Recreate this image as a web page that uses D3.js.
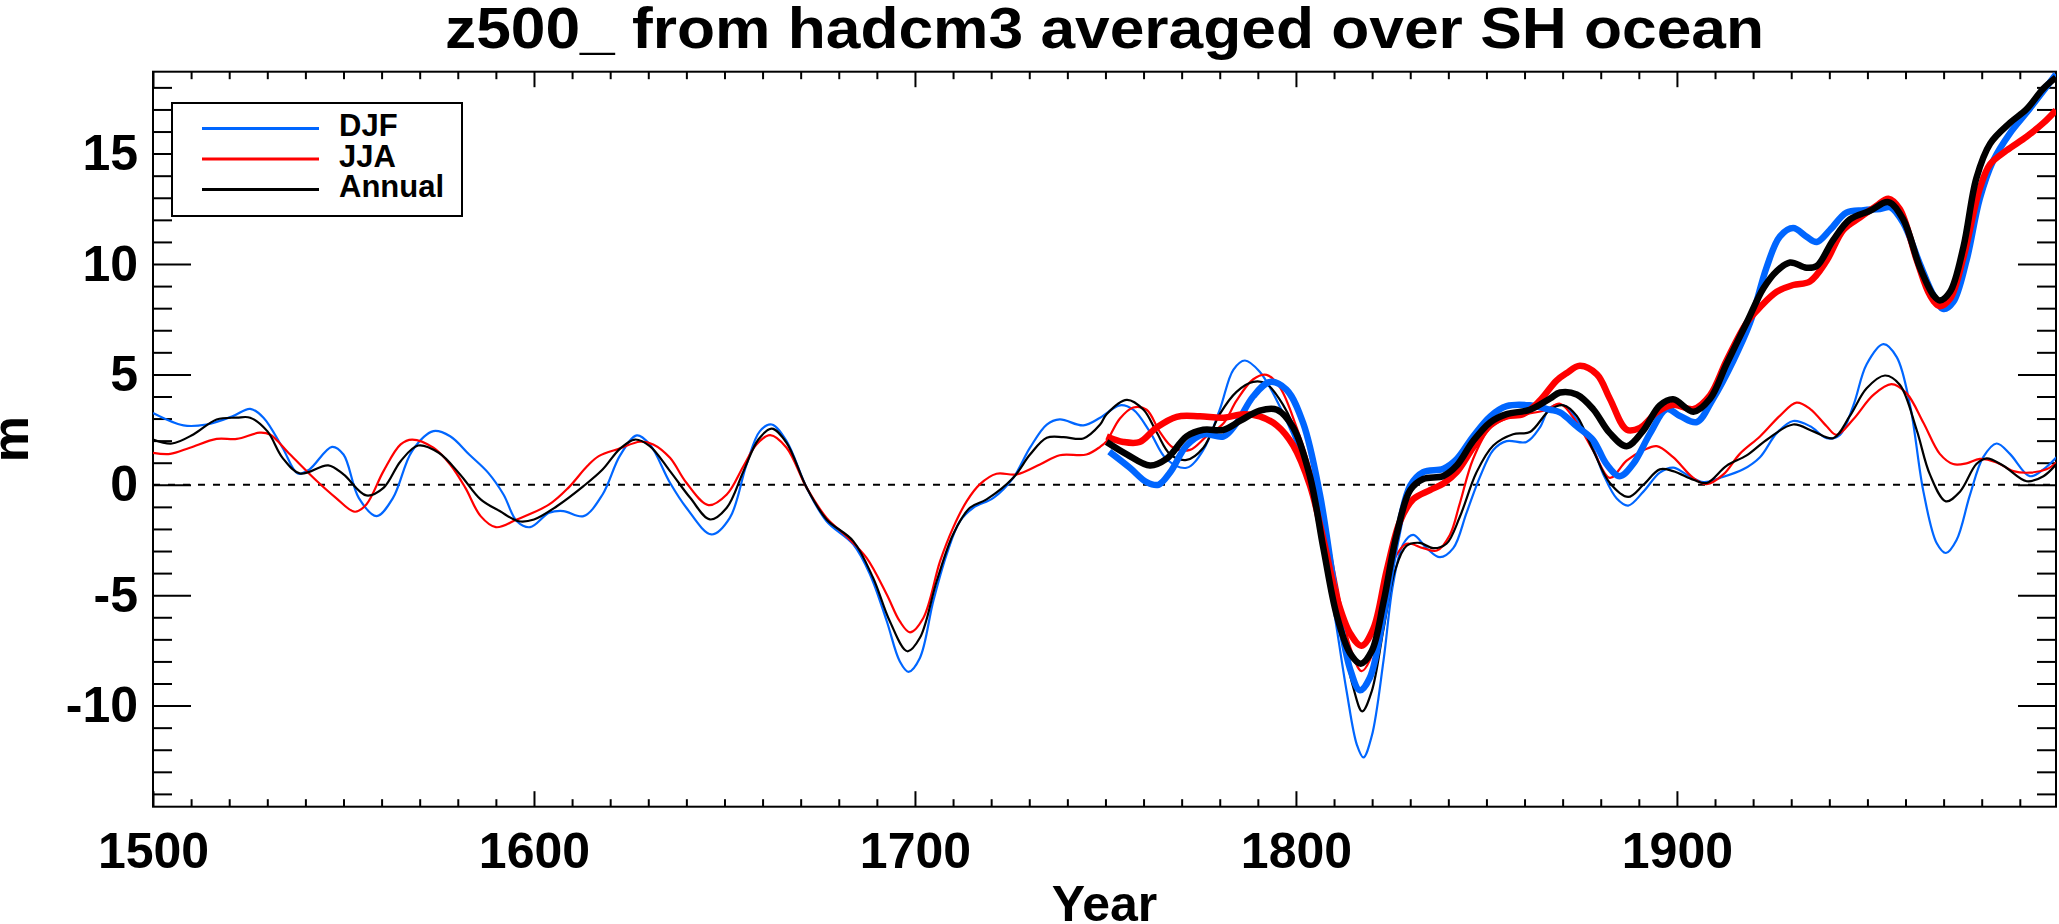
<!DOCTYPE html>
<html>
<head>
<meta charset="utf-8">
<script src="https://cdn.jsdelivr.net/npm/d3@7"></script>
<style>
  body { margin: 0; background: #fff; }
  text { font-family: "Liberation Sans", Arial, Helvetica, sans-serif; font-weight: bold; }
</style>
</head>
<body>
<div id="chart"></div>
<script>
const width = 2059;
const height = 924;
const plot = { left: 153, right: 2056, top: 71.7, bottom: 806.7 };

const titleText = "z500_ from hadcm3 averaged over SH ocean";
const xTickLabels = [1500, 1600, 1700, 1800, 1900];
const yTickLabels = [-10, -5, 0, 5, 10, 15];
const seriesNames = ["DJF", "JJA", "Annual"];
const seriesColors = ["#0066ff", "#ff0000", "#000000"];

// thin curves: 1500-2000
const djfThinYears = [1500, 1508, 1514, 1521, 1525.5, 1529, 1534, 1538, 1541, 1547, 1550, 1554, 1558.7, 1563, 1568, 1573.6, 1578, 1583, 1588, 1592, 1595.5, 1599, 1604, 1607.7, 1613, 1618, 1622.6, 1627, 1630.4, 1635.7, 1640, 1646.6, 1651.4, 1655.8, 1659.3, 1662.4, 1666.3, 1671.6, 1676.8, 1683.8, 1688.2, 1692.6, 1696, 1698.3, 1701.3, 1704.8, 1708.3, 1711.8, 1715.3, 1720.6, 1725.8, 1730.2, 1734.6, 1738, 1744.2, 1748.6, 1753.8, 1757.3, 1761.7, 1766, 1771.3, 1775.7, 1780, 1783.6, 1786.6, 1790.5, 1795, 1799.3, 1802.8, 1806.3, 1809.8, 1813.3, 1816, 1817.7, 1819.9, 1823, 1825.5, 1828.2, 1830.8, 1834.3, 1837.8, 1841.3, 1844.8, 1848.3, 1851.8, 1855.3, 1860.5, 1864, 1866.7, 1870.2, 1873.7, 1877.2, 1880.7, 1884.2, 1887.2, 1891.2, 1895.5, 1899, 1902.5, 1907, 1911.3, 1917.4, 1921.8, 1926.2, 1930.5, 1935, 1939.3, 1942.8, 1946.3, 1949.8, 1954.2, 1957.7, 1961.2, 1964.7, 1968.2, 1970.6, 1973.4, 1976.9, 1980.4, 1983.9, 1987.4, 1992.6, 1996.2, 1999.6];
const djfThinValues = [3.25, 2.69, 2.73, 3.11, 3.44, 3.04, 1.68, 0.51, 0.69, 1.72, 1.37, -0.59, -1.42, -0.59, 1.53, 2.43, 2.2, 1.37, 0.54, -0.44, -1.65, -1.92, -1.27, -1.19, -1.42, -0.44, 1.33, 2.24, 1.83, 0.09, -1.04, -2.25, -1.5, 0.92, 2.43, 2.73, 1.98, -0.14, -1.65, -2.7, -4.06, -6.18, -7.99, -8.47, -7.84, -5.27, -3.16, -1.65, -1.04, -0.59, 0.32, 1.68, 2.73, 2.96, 2.69, 3.04, 3.6, 3.4, 2.39, 1.17, 0.77, 1.58, 3.4, 5.22, 5.63, 5.12, 3.81, 2.19, 0.57, -2.06, -5.51, -9.35, -11.78, -12.35, -11.38, -7.94, -4.49, -2.67, -2.27, -2.87, -3.28, -2.87, -1.26, 0.36, 1.58, 1.98, 1.94, 2.59, 3.5, 3.6, 2.97, 2.03, 0.47, -0.62, -0.94, -0.31, 0.55, 0.78, 0.47, 0.12, 0.31, 0.7, 1.25, 2.34, 2.89, 2.65, 2.11, 2.26, 3.59, 5.46, 6.37, 5.78, 3.59, -0.31, -2.65, -3.09, -2.5, -0.47, 1.25, 1.87, 1.4, 0.39, 0.7, 1.25];

const jjaThinYears = [1500, 1504.5, 1509.7, 1516.7, 1522, 1528, 1530.7, 1536, 1543, 1548, 1553, 1556, 1560.5, 1565, 1568, 1573.6, 1578, 1582, 1586, 1590, 1595.5, 1604, 1609, 1614, 1617, 1622.6, 1627.8, 1631.3, 1635.7, 1640, 1645.8, 1650.6, 1655, 1658.4, 1662, 1666.3, 1671.6, 1676.8, 1682, 1687.3, 1692.6, 1696, 1698.7, 1702.2, 1706.6, 1710, 1713.6, 1717, 1721.4, 1726.7, 1732.8, 1738, 1745, 1748.6, 1750.3, 1753.8, 1757.3, 1760.8, 1764.3, 1767.8, 1772.2, 1776.5, 1781, 1784.4, 1788.8, 1792.3, 1795.8, 1800.2, 1803.7, 1807.2, 1810.7, 1814.2, 1817.2, 1819.4, 1822, 1825.5, 1829, 1833.4, 1837, 1840.4, 1843, 1846.5, 1851, 1855.3, 1860.5, 1865.8, 1869.3, 1873.7, 1878, 1882.4, 1886.8, 1891.2, 1894.7, 1899, 1904.3, 1907.8, 1912.2, 1916.5, 1921.8, 1927, 1931.4, 1935, 1939.3, 1941.9, 1946.3, 1951.5, 1956.3, 1960.3, 1964.7, 1969, 1972.5, 1976, 1979.5, 1983.9, 1988.3, 1992.6, 1997, 1999.6];
const jjaThinValues = [1.45, 1.4, 1.68, 2.08, 2.08, 2.36, 2.28, 1.37, 0.17, -0.59, -1.22, -0.89, 0.62, 1.83, 2.05, 1.68, 0.92, -0.14, -1.42, -1.92, -1.57, -0.89, -0.14, 0.85, 1.3, 1.65, 1.95, 1.83, 1.22, 0.09, -0.92, -0.44, 0.85, 1.83, 2.25, 1.68, -0.14, -1.5, -2.33, -3.31, -4.97, -6.18, -6.68, -6.03, -3.46, -1.95, -0.74, 0.02, 0.5, 0.47, 0.92, 1.34, 1.37, 1.72, 1.98, 3.0, 3.5, 3.4, 2.39, 1.68, 1.58, 2.19, 2.79, 3.81, 4.78, 4.98, 4.41, 2.59, 0.77, -1.46, -4.49, -7.33, -8.44, -7.94, -5.91, -3.48, -2.67, -2.87, -2.98, -2.27, -0.85, 1.17, 2.59, 3.0, 3.2, 3.4, 3.67, 2.81, 1.56, 0.31, 1.09, 1.56, 1.75, 1.25, 0.31, 0.03, 0.47, 1.4, 2.19, 3.12, 3.72, 3.43, 2.65, 2.26, 2.97, 4.06, 4.56, 4.14, 2.81, 1.4, 0.94, 0.97, 1.17, 1.01, 0.62, 0.55, 0.7, 1.01];

const annThinYears = [1500, 1505, 1510.6, 1516.7, 1522, 1525.5, 1530, 1534, 1538.6, 1546, 1550, 1556, 1560.5, 1565, 1569.6, 1575, 1580.6, 1586, 1591, 1596, 1600, 1606, 1613, 1618, 1622.6, 1626.5, 1630.4, 1635.7, 1641, 1646.2, 1650.6, 1655, 1658.9, 1662.4, 1666.3, 1671.6, 1676.8, 1683.8, 1689, 1693.4, 1698, 1701.3, 1705.7, 1710, 1714.4, 1718.8, 1725.8, 1730.2, 1734.6, 1739, 1744.2, 1748.6, 1750.3, 1755.6, 1760, 1763.4, 1767, 1771.3, 1775.7, 1780, 1784.4, 1788.8, 1792.3, 1796.7, 1801, 1804.5, 1808, 1811.5, 1815, 1817.4, 1819.9, 1823, 1826, 1829, 1832.5, 1836, 1839.5, 1843, 1847.4, 1851.8, 1857, 1861.4, 1866.7, 1870.2, 1873.7, 1878, 1882.4, 1887.2, 1891.2, 1895.5, 1899, 1904.3, 1907.8, 1913, 1918.3, 1923.5, 1930.5, 1935.8, 1941, 1945.4, 1949.8, 1954.6, 1958.5, 1962.9, 1966.4, 1970.6, 1974.3, 1978.6, 1981.3, 1985.7, 1991.8, 1996.2, 1999.6];
const annThinValues = [2.05, 1.87, 2.28, 2.96, 3.04, 3.04, 2.43, 1.22, 0.51, 0.88, 0.47, -0.48, -0.14, 1.07, 1.78, 1.45, 0.47, -0.66, -1.19, -1.65, -1.57, -0.97, -0.06, 0.69, 1.64, 2.05, 1.75, 0.62, -0.59, -1.57, -1.04, 0.62, 2.05, 2.54, 1.9, -0.14, -1.57, -2.55, -4.21, -6.18, -7.54, -6.93, -4.37, -2.25, -1.04, -0.66, 0.32, 1.37, 2.13, 2.16, 2.1, 2.73, 3.2, 3.85, 3.4, 2.39, 1.38, 1.13, 1.68, 3.2, 4.21, 4.66, 4.57, 3.6, 1.98, -0.04, -2.87, -6.32, -9.15, -10.26, -9.35, -6.52, -3.89, -2.77, -2.63, -2.87, -2.67, -1.46, 0.57, 1.78, 2.29, 2.39, 3.4, 3.6, 3.12, 1.56, 0.08, -0.55, 0.0, 0.7, 0.62, 0.23, 0.08, 0.86, 1.33, 2.03, 2.73, 2.42, 2.11, 3.12, 4.37, 4.95, 4.53, 2.5, 0.47, -0.75, -0.31, 0.94, 1.2, 0.86, 0.16, 0.39, 0.94];

// thick curves: 1750-2000
const djfThickYears = [1751, 1756.4, 1760.8, 1763.9, 1767, 1771.3, 1775.7, 1781, 1784.4, 1788.8, 1793.2, 1797.5, 1801.9, 1806.3, 1810.7, 1814.2, 1816.8, 1819.4, 1823, 1826.4, 1830, 1833.4, 1838.7, 1842.2, 1846.5, 1851, 1855.3, 1861.4, 1866.7, 1869.3, 1873.7, 1878, 1881.5, 1885, 1888.5, 1893, 1897.3, 1900.8, 1905.2, 1909.5, 1914.8, 1919.2, 1923.5, 1927, 1930.5, 1934, 1936.7, 1940.2, 1944.5, 1949, 1953.3, 1956, 1959.4, 1963.8, 1967.3, 1970, 1972.5, 1976, 1979.5, 1983, 1987.4, 1991.8, 1995.3, 1999.5];
const djfThickValues = [1.5, 0.77, 0.12, 0.0, 0.57, 1.78, 2.29, 2.19, 2.79, 4.01, 4.66, 4.31, 2.79, -0.45, -5.3, -8.34, -9.31, -8.74, -5.91, -2.47, -0.04, 0.57, 0.73, 1.17, 2.19, 3.1, 3.56, 3.6, 3.4, 3.28, 2.65, 2.03, 0.94, 0.39, 0.94, 2.34, 3.43, 3.12, 2.84, 3.9, 5.62, 7.34, 9.83, 11.24, 11.63, 11.24, 11.0, 11.55, 12.33, 12.44, 12.49, 12.57, 11.86, 9.99, 8.59, 7.96, 8.27, 10.15, 12.96, 14.67, 15.92, 16.86, 17.64, 18.6];

const jjaThickYears = [1750.3, 1754.7, 1759, 1763.4, 1768.7, 1774.8, 1781, 1786.2, 1790.5, 1795, 1799.3, 1803.7, 1807.2, 1810.7, 1814.2, 1817.2, 1820.3, 1823.8, 1827.3, 1830.8, 1835.2, 1838.7, 1842.2, 1846.5, 1851, 1855.3, 1859.7, 1864, 1868.4, 1871, 1874.5, 1879, 1882.4, 1886.8, 1890.3, 1894.7, 1899, 1904.3, 1908.7, 1913, 1918.3, 1921.8, 1926.2, 1930.5, 1934.9, 1939.3, 1943.7, 1948, 1952.4, 1955.5, 1958.5, 1963, 1966.4, 1969, 1971.7, 1975.2, 1979.5, 1982.2, 1986.5, 1991.8, 1996.2, 1999.5];
const jjaThickValues = [2.19, 1.94, 1.94, 2.59, 3.08, 3.1, 3.04, 3.2, 3.1, 2.69, 1.78, -0.04, -2.47, -5.1, -6.72, -7.29, -6.52, -3.89, -1.66, -0.65, -0.24, 0.06, 0.57, 1.68, 2.69, 3.1, 3.2, 3.81, 4.72, 5.05, 5.39, 5.0, 3.9, 2.5, 2.58, 3.28, 3.62, 3.43, 4.06, 5.62, 7.34, 8.04, 8.74, 9.05, 9.21, 10.15, 11.55, 12.1, 12.64, 12.96, 12.49, 10.15, 8.59, 8.09, 8.43, 10.3, 13.42, 14.52, 15.14, 15.77, 16.39, 16.97];

const annThickYears = [1750.3, 1755.6, 1761.7, 1766, 1771.3, 1775.7, 1781, 1785.3, 1790.5, 1795, 1799.3, 1803.7, 1807.2, 1810.7, 1814.2, 1817, 1819.9, 1823, 1826.4, 1830, 1833.4, 1838.7, 1842.2, 1846.5, 1851, 1855.3, 1861.4, 1866.7, 1869.3, 1873.7, 1878, 1882.4, 1886.8, 1891, 1895.5, 1899, 1904.3, 1908.7, 1913, 1918.3, 1922.7, 1926.2, 1929.7, 1934, 1936.7, 1941, 1945.4, 1950.7, 1955.5, 1959.4, 1963.8, 1967.3, 1969, 1971.7, 1975.2, 1978.6, 1982.2, 1987.4, 1991.8, 1996.2, 1999.5];
const annThickValues = [1.94, 1.38, 0.87, 1.17, 2.19, 2.49, 2.49, 2.89, 3.36, 3.4, 2.59, 0.36, -2.87, -5.91, -7.63, -8.1, -7.53, -5.3, -2.27, -0.24, 0.26, 0.4, 0.87, 1.98, 2.83, 3.2, 3.4, 3.91, 4.18, 4.09, 3.43, 2.34, 1.75, 2.42, 3.59, 3.87, 3.31, 3.9, 5.46, 7.34, 8.9, 9.68, 10.07, 9.83, 9.91, 11.08, 12.02, 12.41, 12.8, 12.02, 9.83, 8.59, 8.35, 8.74, 10.77, 13.89, 15.45, 16.39, 17.02, 17.95, 18.45];

let svg, x, y;

configureChart();
drawAxes();
drawLines();
drawLegend();

function configureChart() {
    svg = d3.select("#chart").append("svg")
        .attr("width", width)
        .attr("height", height)
        .attr("viewBox", [0, 0, width, height]);

    x = d3.scaleLinear().domain([1500, 1999.5]).range([plot.left, plot.right]);
    y = d3.scaleLinear().domain([-14.58, 18.71]).range([plot.bottom, plot.top]);

    svg.append("defs").append("clipPath").attr("id", "clip")
        .append("rect")
        .attr("x", plot.left).attr("y", plot.top)
        .attr("width", plot.right - plot.left)
        .attr("height", plot.bottom - plot.top);
}

function drawAxes() {
    const plotH = plot.bottom - plot.top;
    const xMinor = d3.range(1510, 2000, 10).filter(d => d % 100 !== 0);
    const yMinor = d3.range(-14, 19, 1).filter(d => d % 5 !== 0);

    // bottom / top, ticks point inward
    const axes = [
        [d3.axisBottom(x), plot.bottom, -1],
        [d3.axisTop(x), plot.top, -1]
    ];
    axes.forEach(([gen, pos], i) => {
        svg.append("g")
            .attr("transform", `translate(0,${pos})`)
            .call(gen.tickValues(xTickLabels).tickSize(-15.5).tickPadding(26)
                .tickFormat(i === 0 ? d3.format("d") : ""))
            .call(g => g.select(".domain").remove());
        svg.append("g")
            .attr("transform", `translate(0,${pos})`)
            .call((i === 0 ? d3.axisBottom(x) : d3.axisTop(x))
                .tickValues(xMinor).tickSize(-7.5).tickFormat(""))
            .call(g => g.select(".domain").remove());
    });

    [[d3.axisLeft(y), plot.left, true], [d3.axisRight(y), plot.right, false]].forEach(([gen, pos, lab]) => {
        svg.append("g")
            .attr("transform", `translate(${pos},0)`)
            .call(gen.tickValues(yTickLabels).tickSize(-38).tickPadding(15)
                .tickFormat(lab ? d => d : ""))
            .call(g => g.select(".domain").remove());
        svg.append("g")
            .attr("transform", `translate(${pos},0)`)
            .call((lab ? d3.axisLeft(y) : d3.axisRight(y)).tickValues(yMinor).tickSize(-19).tickFormat(""))
            .call(g => g.select(".domain").remove());
    });

    svg.selectAll(".tick line").attr("stroke", "#000").attr("stroke-width", 2);
    svg.selectAll(".tick text")
        .attr("fill", "#000")
        .style("font-size", "50px")
        .style("font-family", "'Liberation Sans', Arial, sans-serif")
        .style("font-weight", "bold");

    svg.append("rect")
        .attr("x", plot.left).attr("y", plot.top)
        .attr("width", plot.right - plot.left).attr("height", plotH)
        .attr("fill", "none").attr("stroke", "#000").attr("stroke-width", 2);

    // zero line
    svg.append("line")
        .attr("x1", plot.left).attr("x2", plot.right)
        .attr("y1", y(0)).attr("y2", y(0))
        .attr("stroke", "#000").attr("stroke-width", 2)
        .attr("stroke-dasharray", "7,8");

    svg.append("text")
        .attr("x", (plot.left + plot.right) / 2).attr("y", 48)
        .attr("text-anchor", "middle")
        .attr("textLength", 1319).attr("lengthAdjust", "spacingAndGlyphs")
        .style("font-size", "58px")
        .text(titleText);

    svg.append("text")
        .attr("x", (plot.left + plot.right) / 2).attr("y", 921)
        .attr("text-anchor", "middle")
        .style("font-size", "50px")
        .text("Year");

    svg.append("text")
        .attr("transform", `translate(28,${(plot.top + plot.bottom) / 2}) rotate(-90)`)
        .attr("text-anchor", "middle")
        .style("font-size", "52px")
        .text("m");
}

function drawLines() {
    const line = d3.line()
        .x(d => x(d[0]))
        .y(d => y(d[1]))
        .curve(d3.curveCatmullRom.alpha(0.5));

    const thin = [[djfThinYears, djfThinValues], [jjaThinYears, jjaThinValues], [annThinYears, annThinValues]];
    const thick = [[djfThickYears, djfThickValues], [jjaThickYears, jjaThickValues], [annThickYears, annThickValues]];

    const g = svg.append("g").attr("clip-path", "url(#clip)");

    [[thin, 2.2], [thick, 6.5]].forEach(([set, w]) => {
        set.forEach(([yrs, vals], i) => {
            g.append("path")
                .datum(yrs.map((yr, j) => [yr, vals[j]]))
                .attr("d", line)
                .attr("fill", "none")
                .attr("stroke", seriesColors[i])
                .attr("stroke-width", w)
                .attr("stroke-linejoin", "round");
        });
    });
}

function drawLegend() {
    const lg = svg.append("g");
    lg.append("rect")
        .attr("x", 172).attr("y", 103).attr("width", 290).attr("height", 113)
        .attr("fill", "#fff").attr("stroke", "#000").attr("stroke-width", 2);

    seriesNames.forEach((name, i) => {
        const ly = 128.5 + i * 30.5;
        lg.append("line")
            .attr("x1", 202).attr("x2", 319)
            .attr("y1", ly).attr("y2", ly)
            .attr("stroke", seriesColors[i]).attr("stroke-width", 3);
        lg.append("text")
            .attr("x", 339).attr("y", ly + 7.5)
            .style("font-size", "31px")
            .text(name);
    });
}
</script>
</body>
</html>
